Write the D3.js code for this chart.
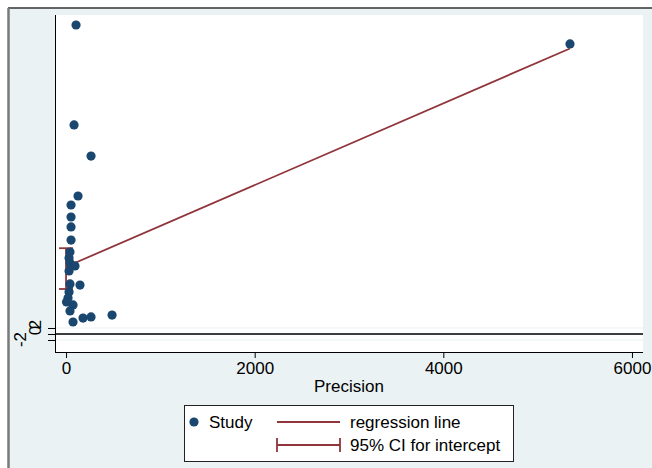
<!DOCTYPE html>
<html>
<head>
<meta charset="utf-8">
<script src="https://cdn.jsdelivr.net/npm/d3@7"></script>
<style>
  html, body { margin: 0; padding: 0; background: #ffffff; }
  svg { display: block; font-family: "Liberation Sans", Arial, sans-serif; }
</style>
</head>
<body>
<svg id="chart" width="652" height="468"></svg>
<script>
// Egger regression: standardized effect against precision for each study
const precision = [106, 85, 265, 127, 53, 53, 53, 53, 42, 32, 42, 95, 32, 148, 42, 32, 21, 5, 74, 42, 180, 265, 488, 74, 5343];
const stdEffect = [103, 69.7, 59.3, 46, 43, 39, 35.7, 31.3, 27.3, 25.3, 23.7, 22.7, 21, 16.3, 16.7, 14, 12, 10.7, 9.7, 7.7, 5.3, 5.7, 6.3, 4, 96.7];

// fitted line and intercept confidence interval
const intercept = 22.4;
const slope = 0.01362;
const interceptCI = [15.0, 28.6];

const xTicks = [0, 2000, 4000, 6000];
const yTicks = [-2, 0, 2];
const legendLabels = ["Study", "regression line", "95% CI for intercept"];

const navy = "#1a476f", maroon = "#90353b", bg = "#eaf2f3";

const svg = d3.select("#chart");

// outer graph region
svg.append("rect").attr("x", 8).attr("y", 8).attr("width", 644).attr("height", 460).attr("fill", bg);
svg.append("line").attr("x1", 8).attr("x2", 652).attr("y1", 8).attr("y2", 8).attr("stroke", "#333").attr("stroke-width", 1.6);
svg.append("line").attr("x1", 8.5).attr("x2", 8.5).attr("y1", 8).attr("y2", 468).attr("stroke", "#7a7a7a").attr("stroke-width", 2.5);

// plot region
const L = 55, R = 643, T = 15, B = 352;
svg.append("rect").attr("x", L).attr("y", T).attr("width", R - L).attr("height", B - T).attr("fill", "#fff");

const x = d3.scaleLinear().domain([-117, 6117]).range([L, R]);
const y = d3.scaleLinear().domain([-6, 106.33]).range([B, T]);

// grid lines at y ticks
svg.append("g").selectAll("line").data(yTicks).join("line")
  .attr("x1", L).attr("x2", R)
  .attr("y1", d => y(d)).attr("y2", d => y(d))
  .attr("stroke", bg).attr("stroke-width", 1.2);

// reference line at zero
svg.append("line").attr("x1", L).attr("x2", R).attr("y1", y(0)).attr("y2", y(0))
  .attr("stroke", "#000").attr("stroke-width", 1.5);

// axes
const fmt = d => String(d);
const xAxis = svg.append("g").attr("transform", `translate(0,${B})`)
  .call(d3.axisBottom(x).tickValues(xTicks).tickSize(6).tickPadding(4).tickFormat(fmt));
xAxis.select(".domain").attr("d", `M${L},0.5H${R}`).attr("stroke", "#000");
xAxis.selectAll("text").attr("font-size", 17).attr("fill", "#000").attr("font-family", "Liberation Sans, Arial, sans-serif");

const yAxis = svg.append("g").attr("transform", `translate(${L},0)`)
  .call(d3.axisLeft(y).tickValues(yTicks).tickSize(7).tickFormat(fmt));
yAxis.select(".domain").attr("d", `M0.5,${T}V${B}`).attr("stroke", "#000");
yAxis.selectAll("text")
  .attr("font-size", 17).attr("fill", "#000").attr("font-family", "Liberation Sans, Arial, sans-serif")
  .attr("text-anchor", "middle")
  .attr("transform", d => `translate(${d < 0 ? -29 : -14},${d < 0 ? -1 : -4}) rotate(-90)`)
  .attr("x", 0).attr("dy", "0");

svg.append("text").attr("x", (x(0) + x(6000)) / 2).attr("y", 392)
  .attr("text-anchor", "middle").attr("font-size", 17).text("Precision");

// regression line from precision 0 to the largest precision
const xMax = d3.max(precision);
svg.append("line")
  .attr("x1", x(0)).attr("y1", y(intercept))
  .attr("x2", x(xMax)).attr("y2", y(intercept + slope * xMax))
  .attr("stroke", maroon).attr("stroke-width", 1.8);

// confidence interval for the intercept
const ci = svg.append("g").attr("stroke", maroon).attr("stroke-width", 1.8);
ci.append("line").attr("x1", x(0)).attr("x2", x(0)).attr("y1", y(interceptCI[0])).attr("y2", y(interceptCI[1]));
interceptCI.forEach(v => ci.append("line").attr("x1", x(0) - 7).attr("x2", x(0) + 7).attr("y1", y(v)).attr("y2", y(v)));

// study points
svg.append("g").selectAll("circle").data(precision.map((p, i) => [p, stdEffect[i]])).join("circle")
  .attr("cx", d => x(d[0])).attr("cy", d => y(d[1])).attr("r", 4.6).attr("fill", navy);

// legend
const lg = svg.append("g");
lg.append("rect").attr("x", 184.5).attr("y", 405.5).attr("width", 329).attr("height", 56)
  .attr("fill", "#fff").attr("stroke", "#222").attr("stroke-width", 1);
lg.append("circle").attr("cx", 194).attr("cy", 422).attr("r", 4.6).attr("fill", navy);
lg.append("text").attr("x", 209).attr("y", 428).attr("font-size", 17).text(legendLabels[0]);
lg.append("line").attr("x1", 277).attr("x2", 340).attr("y1", 422).attr("y2", 422).attr("stroke", maroon).attr("stroke-width", 1.8);
lg.append("text").attr("x", 350).attr("y", 428).attr("font-size", 17).text(legendLabels[1]);
const lc = lg.append("g").attr("stroke", maroon).attr("stroke-width", 1.8);
lc.append("line").attr("x1", 277).attr("x2", 340).attr("y1", 445).attr("y2", 445);
lc.append("line").attr("x1", 277).attr("x2", 277).attr("y1", 438).attr("y2", 452);
lc.append("line").attr("x1", 340).attr("x2", 340).attr("y1", 438).attr("y2", 452);
lg.append("text").attr("x", 350).attr("y", 451).attr("font-size", 17).text(legendLabels[2]);
</script>
</body>
</html>
